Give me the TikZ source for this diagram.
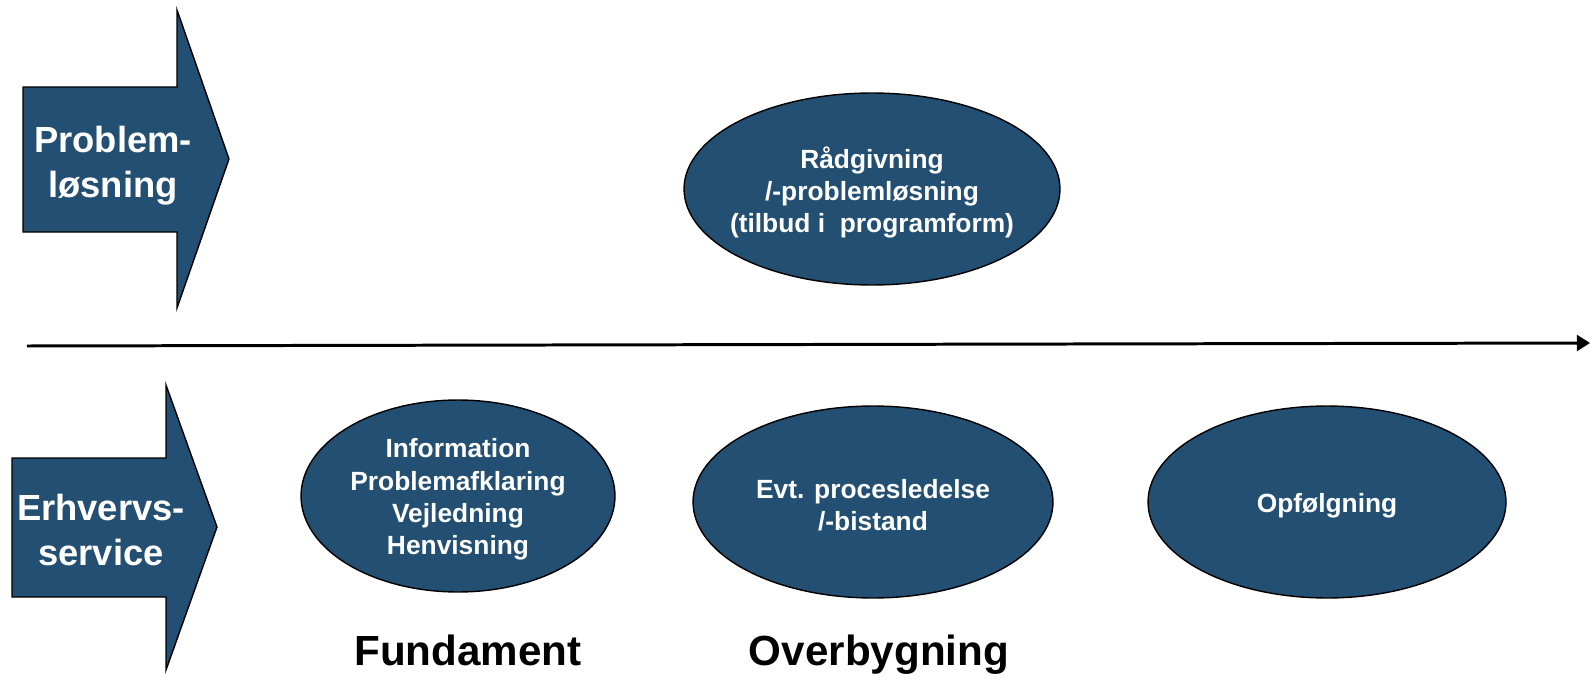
\documentclass[tikz,border=0pt]{standalone}
\usepackage{fontspec}
\setmainfont{Liberation Sans}
\usepackage{tikz}
\usetikzlibrary{shapes,arrows.meta,positioning,calc}
\definecolor{boxblue}{RGB}{35,79,115}

\begin{document}
\begin{tikzpicture}[x=0.02cm,y=0.02cm,
    bubble/.style={ellipse,draw=black,line width=0.8pt,fill=boxblue,inner sep=0pt},
    bubbletext/.style={text=white,font=\bfseries\fontsize{15}{18.4}\selectfont,align=center,yshift=-0.07cm},
    bigarrow/.style={draw=black,line width=0.8pt,fill=boxblue},
    arrowtext/.style={text=white,font=\bfseries\fontsize{20.7}{25.5}\selectfont,align=center},
    phase/.style={font=\bfseries\fontsize{24}{28}\selectfont,anchor=base}]
      \useasboundingbox (0,0) rectangle (1591,677);

      \coordinate (s) at (27,331);
      \coordinate (t) at (1590,334);

      % the two big arrows
      \draw[bigarrow] (23,590) -- (177,590) -- (177,667) -- (229,518) -- (177,369) -- (177,445) -- (23,445) -- cycle;
      \node[arrowtext] (pl) at (113,511) {Problem-\\løsning};
      \draw[bigarrow] (12,219) -- (166,219) -- (166,292) -- (217,150) -- (166,7) -- (166,80) -- (12,80) -- cycle;
      \node[arrowtext] (es) at (101,147) {Erhvervs-\\service};

      \draw[line width=1.7pt,-{Triangle[length=7.5pt,width=9pt]}] (s) -- (t);

      \node[bubble,minimum width=7.52cm,minimum height=3.84cm] (raad) at (872,488) {};
      \node[bubbletext] (raadt) at (raad) {Rådgivning\\/-problemløsning\\(tilbud i\ \ programform)};

      \node[bubble,minimum width=6.28cm,minimum height=3.84cm] (info) at (458,181) {};
      \node[bubbletext] (infot) at (info) {Information\\Problemafklaring\\Vejledning\\Henvisning};

      \node[bubble,minimum width=7.2cm,minimum height=3.84cm] (proc) at (873,175) {};
      \node[bubbletext] (proct) at (proc) {Evt. procesledelse\\/-bistand};

      \node[bubble,minimum width=7.16cm,minimum height=3.84cm] (opf) at (1327,175) {};
      \node[bubbletext] (opft) at (opf) {Opfølgning};

      \node[phase] (fund) at (468,12) {Fundament};
      \node[phase] (over) at (879,12) {Overbygning};
\end{tikzpicture}
\end{document}
